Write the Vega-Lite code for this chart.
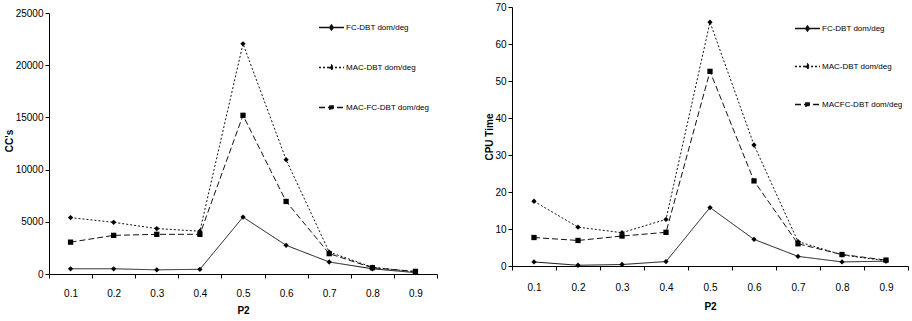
{
  "$schema": "https://vega.github.io/schema/vega-lite/v6.json",
  "padding": {"left": 4, "top": 2, "right": 3, "bottom": 0},
  "background": "white",
  "config": {
    "view": {"stroke": null},
    "font": "Liberation Sans",
    "axis": {
      "grid": false,
      "domainColor": "#000",
      "tickColor": "#000",
      "labelColor": "#000",
      "titleColor": "#000",
      "labelFont": "Liberation Sans",
      "labelFontSize": 10,
      "titleFont": "Liberation Sans",
      "titleFontSize": 10,
      "titleFontWeight": "bold",
      "tickSize": 4
    },
    "legend": {
      "labelFont": "Liberation Sans",
      "labelFontSize": 8,
      "labelColor": "#000",
      "padding": 0,
      "symbolSize": 625,
      "labelOffset": 1
    }
  },
  "datasets": {
    "cc": [
      {"p": "0.1", "s": "FC-DBT dom/deg", "v": 500},
      {"p": "0.2", "s": "FC-DBT dom/deg", "v": 500},
      {"p": "0.3", "s": "FC-DBT dom/deg", "v": 400},
      {"p": "0.4", "s": "FC-DBT dom/deg", "v": 450},
      {"p": "0.5", "s": "FC-DBT dom/deg", "v": 5450},
      {"p": "0.6", "s": "FC-DBT dom/deg", "v": 2750},
      {"p": "0.7", "s": "FC-DBT dom/deg", "v": 1150},
      {"p": "0.8", "s": "FC-DBT dom/deg", "v": 500},
      {"p": "0.9", "s": "FC-DBT dom/deg", "v": 130},
      {"p": "0.1", "s": "MAC-DBT dom/deg", "v": 5400},
      {"p": "0.2", "s": "MAC-DBT dom/deg", "v": 4950},
      {"p": "0.3", "s": "MAC-DBT dom/deg", "v": 4350},
      {"p": "0.4", "s": "MAC-DBT dom/deg", "v": 4100},
      {"p": "0.5", "s": "MAC-DBT dom/deg", "v": 22050},
      {"p": "0.6", "s": "MAC-DBT dom/deg", "v": 10950},
      {"p": "0.7", "s": "MAC-DBT dom/deg", "v": 2100},
      {"p": "0.8", "s": "MAC-DBT dom/deg", "v": 650},
      {"p": "0.9", "s": "MAC-DBT dom/deg", "v": 200},
      {"p": "0.1", "s": "MAC-FC-DBT dom/deg", "v": 3050},
      {"p": "0.2", "s": "MAC-FC-DBT dom/deg", "v": 3700},
      {"p": "0.3", "s": "MAC-FC-DBT dom/deg", "v": 3800},
      {"p": "0.4", "s": "MAC-FC-DBT dom/deg", "v": 3800},
      {"p": "0.5", "s": "MAC-FC-DBT dom/deg", "v": 15200},
      {"p": "0.6", "s": "MAC-FC-DBT dom/deg", "v": 6950},
      {"p": "0.7", "s": "MAC-FC-DBT dom/deg", "v": 1950},
      {"p": "0.8", "s": "MAC-FC-DBT dom/deg", "v": 600},
      {"p": "0.9", "s": "MAC-FC-DBT dom/deg", "v": 250}
    ],
    "cpu": [
      {"p": "0.1", "s": "FC-DBT dom/deg", "v": 1.1},
      {"p": "0.2", "s": "FC-DBT dom/deg", "v": 0.2},
      {"p": "0.3", "s": "FC-DBT dom/deg", "v": 0.4},
      {"p": "0.4", "s": "FC-DBT dom/deg", "v": 1.2},
      {"p": "0.5", "s": "FC-DBT dom/deg", "v": 15.8},
      {"p": "0.6", "s": "FC-DBT dom/deg", "v": 7.2},
      {"p": "0.7", "s": "FC-DBT dom/deg", "v": 2.6},
      {"p": "0.8", "s": "FC-DBT dom/deg", "v": 1.1},
      {"p": "0.9", "s": "FC-DBT dom/deg", "v": 1.3},
      {"p": "0.1", "s": "MAC-DBT dom/deg", "v": 17.5},
      {"p": "0.2", "s": "MAC-DBT dom/deg", "v": 10.5},
      {"p": "0.3", "s": "MAC-DBT dom/deg", "v": 9.0},
      {"p": "0.4", "s": "MAC-DBT dom/deg", "v": 12.6},
      {"p": "0.5", "s": "MAC-DBT dom/deg", "v": 65.9},
      {"p": "0.6", "s": "MAC-DBT dom/deg", "v": 32.7},
      {"p": "0.7", "s": "MAC-DBT dom/deg", "v": 6.6},
      {"p": "0.8", "s": "MAC-DBT dom/deg", "v": 3.0},
      {"p": "0.9", "s": "MAC-DBT dom/deg", "v": 1.4},
      {"p": "0.1", "s": "MACFC-DBT dom/deg", "v": 7.7},
      {"p": "0.2", "s": "MACFC-DBT dom/deg", "v": 6.9},
      {"p": "0.3", "s": "MACFC-DBT dom/deg", "v": 8.1},
      {"p": "0.4", "s": "MACFC-DBT dom/deg", "v": 9.1},
      {"p": "0.5", "s": "MACFC-DBT dom/deg", "v": 52.6},
      {"p": "0.6", "s": "MACFC-DBT dom/deg", "v": 23.0},
      {"p": "0.7", "s": "MACFC-DBT dom/deg", "v": 6.0},
      {"p": "0.8", "s": "MACFC-DBT dom/deg", "v": 3.1},
      {"p": "0.9", "s": "MACFC-DBT dom/deg", "v": 1.6}
    ]
  },
  "spacing": 46,
  "resolve": {
    "scale": {"x": "independent", "y": "independent", "strokeDash": "independent", "shape": "independent"},
    "legend": {"strokeDash": "independent", "shape": "independent"}
  },
  "hconcat": [
    {
      "width": 388,
      "height": 267,
      "data": {"name": "cc"},
      "encoding": {
        "x": {
          "field": "p", "type": "ordinal", "bandPosition": 0.5,
          "scale": {"type": "band", "paddingInner": 0, "paddingOuter": 0},
          "axis": {"title": "P2", "labelAngle": 0, "tickBand": "extent", "labelPadding": 10, "titlePadding": 7}
        },
        "y": {
          "field": "v", "type": "quantitative",
          "scale": {"domain": [0, 25575], "nice": false},
          "axis": {"title": "CC's", "domainDash": [261, 30], "values": [0, 5000, 10000, 15000, 20000, 25000], "format": "d", "labelPadding": 2, "titlePadding": 1}
        }
      },
      "layer": [
        {
          "mark": {"type": "line", "color": "#111", "strokeWidth": 1},
          "encoding": {
            "strokeDash": {
              "field": "s", "type": "nominal",
              "scale": {"domain": ["FC-DBT dom/deg", "MAC-DBT dom/deg", "MAC-FC-DBT dom/deg"], "range": [[1, 0], [2, 2], [6, 3]]},
              "legend": {
                "title": null, "orient": "none", "legendX": 269, "legendY": 7, "rowPadding": 21,
                "symbolFillColor": "#000",
                "symbolType": {"expr": "datum.index == 2 ? 'M-1,0H1M-0.13,-0.13H0.13V0.13H-0.13Z' : 'M-1,0H1M0,-0.2L0.14,0L0,0.2L-0.14,0Z'"},
                "encode": {"symbols": {"fill": {"value": "#000"}, "stroke": {"value": "#000"}, "strokeWidth": {"value": 1}}}
              }
            }
          }
        },
        {
          "mark": {"type": "point", "filled": true, "color": "#000", "opacity": 1, "size": 28},
          "encoding": {
            "shape": {
              "field": "s", "type": "nominal",
              "scale": {"domain": ["MAC-FC-DBT dom/deg", "FC-DBT dom/deg", "MAC-DBT dom/deg"], "range": ["square", "diamond", "diamond"]},
              "legend": null
            }
          }
        }
      ]
    },
    {
      "width": 396,
      "height": 259,
      "data": {"name": "cpu"},
      "encoding": {
        "x": {
          "field": "p", "type": "ordinal", "bandPosition": 0.5,
          "scale": {"type": "band", "paddingInner": 0, "paddingOuter": 0},
          "axis": {"title": "P2", "labelAngle": 0, "tickBand": "extent", "labelPadding": 12, "titlePadding": 9}
        },
        "y": {
          "field": "v", "type": "quantitative",
          "scale": {"domain": [0, 70]},
          "axis": {"title": "CPU Time", "values": [0, 10, 20, 30, 40, 50, 60, 70], "labelPadding": 2, "titlePadding": 0}
        }
      },
      "layer": [
        {
          "mark": {"type": "line", "color": "#111", "strokeWidth": 1},
          "encoding": {
            "strokeDash": {
              "field": "s", "type": "nominal",
              "scale": {"domain": ["FC-DBT dom/deg", "MAC-DBT dom/deg", "MACFC-DBT dom/deg"], "range": [[1, 0], [2, 2], [6, 3]]},
              "legend": {
                "title": null, "orient": "none", "legendX": 282, "legendY": 8, "rowPadding": 19,
                "symbolFillColor": "#000",
                "symbolType": {"expr": "datum.index == 2 ? 'M-1,0H1M-0.13,-0.13H0.13V0.13H-0.13Z' : 'M-1,0H1M0,-0.2L0.14,0L0,0.2L-0.14,0Z'"},
                "encode": {"symbols": {"fill": {"value": "#000"}, "stroke": {"value": "#000"}, "strokeWidth": {"value": 1}}}
              }
            }
          }
        },
        {
          "mark": {"type": "point", "filled": true, "color": "#000", "opacity": 1, "size": 28},
          "encoding": {
            "shape": {
              "field": "s", "type": "nominal",
              "scale": {"domain": ["MACFC-DBT dom/deg", "FC-DBT dom/deg", "MAC-DBT dom/deg"], "range": ["square", "diamond", "diamond"]},
              "legend": null
            }
          }
        }
      ]
    }
  ]
}
